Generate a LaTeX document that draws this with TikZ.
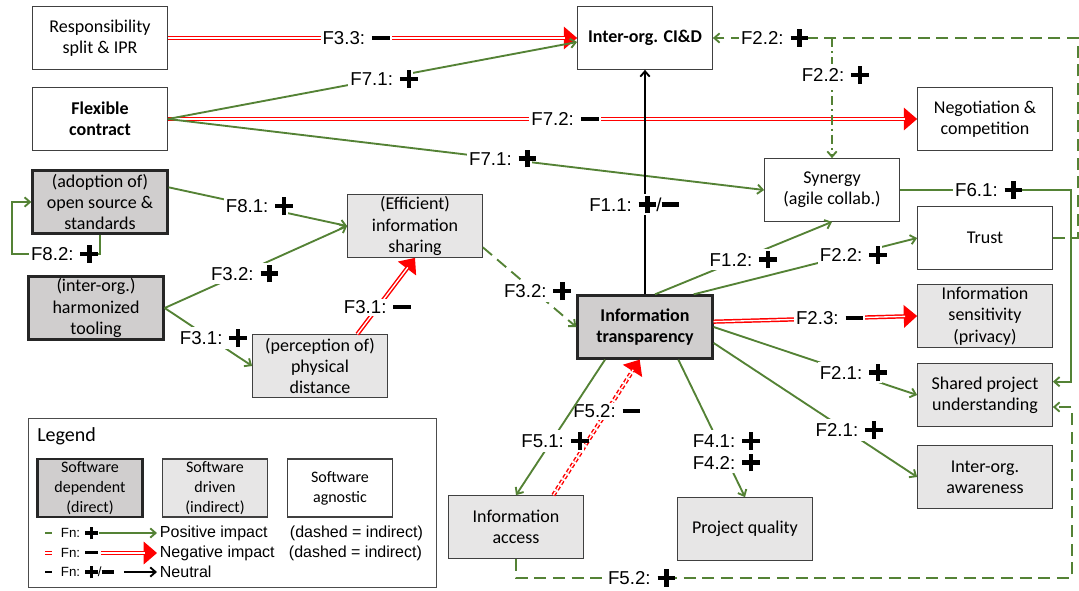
\documentclass[tikz,border=0pt]{standalone}
\usepackage{fontspec}
\setmainfont{Liberation Sans}
\newfontfamily\cfont{Carlito}
\definecolor{fgreen}{RGB}{84,130,53}
\definecolor{fred}{RGB}{255,0,0}
\definecolor{depgray}{RGB}{208,206,206}
\definecolor{drvgray}{RGB}{231,230,230}
\usetikzlibrary{arrows.meta}
% thick plus / minus signs
\newcommand\mns{\rule[0.24em]{0.95em}{0.23em}}
\newcommand\pls{\rule[0.24em]{0.95em}{0.23em}\hspace{-0.59em}\rule[-0.12em]{0.23em}{0.95em}\hspace{0.36em}}

\begin{document}
\begin{tikzpicture}[x=0.75pt, y=-0.75pt,
  box/.style={draw=black!75, line width=0.8pt, minimum width=101pt, minimum height=47pt, inner sep=1pt, align=center, font=\cfont\fontsize{13.5}{16}\selectfont},
  sdep/.style={box, fill=depgray, draw=black!85, line width=2pt},
  sdrv/.style={box, fill=drvgray},
  sagn/.style={box, fill=white},
  bld/.style={font=\cfont\bfseries\fontsize{13.5}{16}\selectfont},
  lgdbox/.style={minimum width=79pt, minimum height=43.5pt, font=\cfont\fontsize{12}{15}\selectfont},
  lbl/.style={fill=white, inner sep=1.5pt, font=\fontsize{14}{16}\selectfont},
  lgdfn/.style={anchor=west, inner sep=2pt, font=\fontsize{10}{11}\selectfont},
  lgdtxt/.style={anchor=west, inner sep=2pt, font=\fontsize{12}{14}\selectfont},
  posline/.style={draw=fgreen, line width=1.4pt, -{Straight Barb[length=4pt,width=7pt]}},
  posind/.style={posline, dash pattern=on 9pt off 5pt},
  posdd/.style={posline, dash pattern=on 7pt off 3pt on 1.5pt off 3pt},
  negtip/.style={draw=fred, line width=1pt, -{Triangle[length=10pt,width=17pt]}},
  negline/.style={draw=fred, line width=1.1pt, double=white, double distance=1pt, shorten >=9pt},
  neuline/.style={draw=black, line width=1.4pt, -{Straight Barb[length=4pt,width=7pt]}}]
  \useasboundingbox (0,0) rectangle (1079,590);
  % Factors
  \node[sagn] (resp) at (100,38) {Responsibility\\split \& IPR};
  \node[sagn, bld] (cid) at (645,38) {Inter-org. CI\&D};
  \node[sagn, bld] (flex) at (100,119) {Flexible\\contract};
  \node[sagn] (nego) at (985,119) {Negotiation \&\\competition};
  \node[sagn] (syn) at (832,190) {Synergy\\(agile collab.)};
  \node[sdep] (oss) at (100,202) {(adoption of)\\open source \&\\standards};
  \node[sdrv] (eis) at (415,226) {(Efficient)\\information\\sharing};
  \node[sagn] (trust) at (985,238) {Trust};
  \node[sdep] (tool) at (96,308) {(inter-org.)\\harmonized\\tooling};
  \node[sdep, bld] (it) at (645,327) {Information\\transparency};
  \node[sdrv] (sens) at (985,316) {Information\\sensitivity\\(privacy)};
  \node[sdrv] (phys) at (320,366) {(perception of)\\physical\\distance};
  \node[sdrv] (spu) at (985,395) {Shared project\\understanding};
  \node[sdrv] (aware) at (985,477) {Inter-org.\\awareness};
  \node[sdrv] (iacc) at (516,527) {Information\\access};
  \node[sdrv] (pq) at (745,529) {Project quality};
  % Bends
  \coordinate (l82) at (12,254);
  \coordinate (c61) at (1071,190);
  \coordinate (b52) at (1072,578);
  \coordinate (t22) at (1078,238);
  \coordinate (b22) at (syn.north |- cid.east);
  % Negative impacts
  \draw[negtip] (resp.east) -- (cid.west);
  \draw[negline] (resp.east) -- node[lbl, pos=0.46] {F3.3: \mns} (cid.west);
  \draw[negtip] (flex.east) -- (nego.west);
  \draw[negline] (flex.east) -- node[lbl, pos=0.53] {F7.2: \mns} (nego.west);
  \draw[negtip] ([yshift=4pt]it.east) -- (sens.west);
  \draw[negline] ([yshift=4pt]it.east) -- node[lbl, pos=0.57] {F2.3: \mns} (sens.west);
  \draw[negtip] ([xshift=28pt]phys.north) -- (eis.south);
  \draw[negline] ([xshift=28pt]phys.north) -- node[lbl, pos=0.35] {F3.1: \mns} (eis.south);
  \draw[negtip, dash pattern=on 3pt off 2pt] ([xshift=28pt]iacc.north) -- ([xshift=-4pt]it.south);
  \draw[negline, dash pattern=on 3pt off 2pt] ([xshift=28pt]iacc.north) -- node[lbl, pos=0.62] {F5.2: \mns} ([xshift=-4pt]it.south);
  % Positive impacts
  \draw[posline] (flex.east) -- node[lbl, pos=0.52] {F7.1: \pls} ([yshift=-3pt]cid.west);
  \draw[posline] (flex.east) -- node[lbl, pos=0.556] {F7.1: \pls} (syn.west);
  \draw[posline] ([yshift=11pt]oss.east) -- node[lbl, pos=0.49] {F8.1: \pls} (eis.west);
  \draw[posline] (oss.south) |- node[lbl, pos=0.72] {F8.2: \pls} (l82) |- (oss.west);
  \draw[posline] (tool.east) -- node[lbl, pos=0.42] {F3.2: \pls} (eis.west);
  \draw[posline] (tool.east) -- node[lbl, pos=0.52] {F3.1: \pls} (phys.west);
  \draw[posind] ([yshift=-16pt]eis.east) -- node[lbl, pos=0.55] {F3.2: \pls} (it.west);
  \draw[posline] ([xshift=7.5pt]it.north) -- node[lbl, pos=0.48] {F1.2: \pls} (syn.south);
  \draw[posline] ([xshift=-15pt]it.north east) -- node[lbl, pos=0.7] {F2.2: \pls} (trust.west);
  \draw[posline] (it.east) -- node[lbl, pos=0.67] {F2.1: \pls} (spu.west);
  \draw[posline] ([yshift=-12pt]it.east) -- node[lbl, pos=0.65] {F2.1: \pls} (aware.west);
  \draw[posline] ([xshift=25pt]it.south) -- node[lbl, pos=0.67, align=center] {F4.1: \pls\\F4.2: \pls} (pq.north);
  \draw[posline] ([xshift=-30pt]it.south) -- node[lbl, pos=0.6] {F5.1: \pls} (iacc.north);
  \draw[posline] (syn.east) -- node[lbl] {F6.1: \pls} (c61) |- ([yshift=10pt]spu.east);
  \draw[posind] (iacc.south) |- node[lbl, pos=0.61] {F5.2: \pls} (b52) |- ([yshift=-9pt]spu.east);
  \draw[posind] (trust.east) -- (t22) |- node[lbl, pos=0.92] {F2.2: \pls} (cid.east);
  \draw[posdd] (b22) -- node[lbl, pos=0.31] {F2.2: \pls} (syn.north);
  % Neutral
  \draw[neuline] (it.north) -- node[lbl, pos=0.4, xshift=-8pt] {F1.1: \pls/\mns} (cid.south);
  % Legend
  \node[draw=black!70, line width=0.8pt, minimum width=306pt, minimum height=127pt] (lgd) at (232.5,503) {};
  \node[anchor=west, inner sep=0pt, font=\cfont\fontsize{15}{18}\selectfont] (lgdt) at (37,436) {Legend};
  \node[sdep, lgdbox] (ldep) at (90,488) {Software\\dependent\\(direct)};
  \node[sdrv, lgdbox] (ldrv) at (215,488) {Software\\driven\\(indirect)};
  \node[sagn, lgdbox] (lagn) at (340,488) {Software\\agnostic};
  \draw[draw=fgreen, line width=1.4pt] (45,533) -- (52,533);
  \draw[draw=fred, line width=0.8pt, double=white, double distance=0.9pt] (45,553) -- (52,553);
  \draw[draw=black, line width=1.4pt] (45,572) -- (52,572);
  \node[lgdfn] (fn1) at (58,533) {Fn: \pls};
  \node[lgdfn] (fn2) at (58,553) {Fn: \mns};
  \node[lgdfn] (fn3) at (58,572) {Fn: \pls/\mns};
  \node[lgdtxt] (pi) at (157,533) {Positive impact};
  \node[lgdtxt] (ni) at (157,553) {Negative impact};
  \node[lgdtxt] (nt) at (157,572) {Neutral};
  \node[lgdtxt] (di1) at (287,533) {(dashed = indirect)};
  \node[lgdtxt] (di2) at (286,553) {(dashed = indirect)};
  \draw[posline, shorten <=2pt] (fn1.east) -- (pi.west);
  \draw[negtip] (fn2.east) -- (ni.west);
  \draw[negline] (fn2.east) -- (ni.west);
  \draw[neuline, shorten <=5pt] (fn3.east) -- (nt.west);
\end{tikzpicture}
\end{document}
